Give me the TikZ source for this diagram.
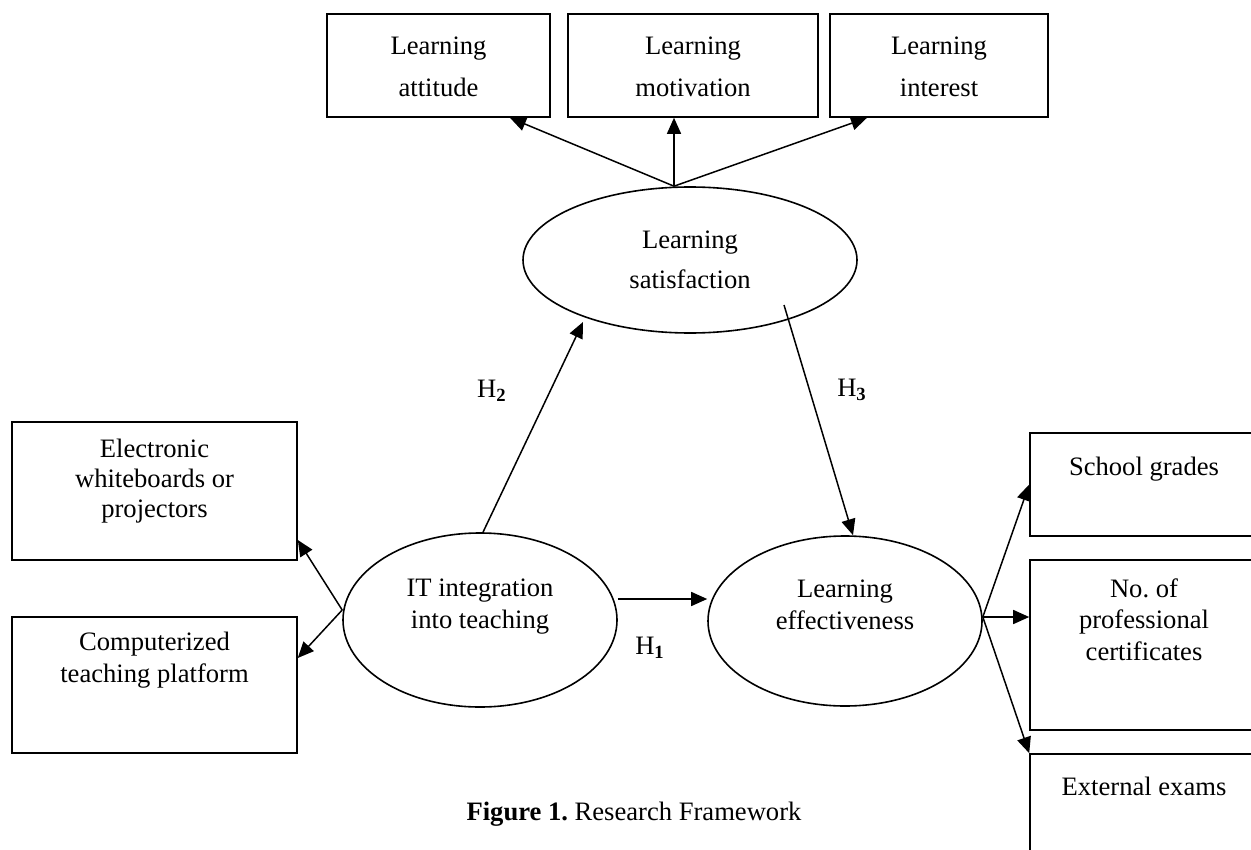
\documentclass[tikz,border=0pt]{standalone}
\usepackage{fontspec}
\setmainfont{Liberation Serif}
\usetikzlibrary{positioning,arrows.meta,shapes.geometric}

\begin{document}
\begin{tikzpicture}[x=0.5pt, y=-0.5pt,
    box/.style = {draw, line width=0.8pt, inner sep=0pt, align=center},
    oval/.style = {draw, ellipse, line width=0.8pt, inner sep=0pt, align=center},
    hyp/.style = {inner sep=0pt},
    font=\fontsize{13.3}{16}\selectfont]
    \useasboundingbox (0,0) rectangle (1251,850);

    % top row
    \node [box, minimum width=111.5pt, text height=41.5pt, text depth=10pt, font=\fontsize{13.3}{21}\selectfont] (att) at (438.5,65.5) {Learning\\attitude};
    \node [box, minimum width=125pt, text height=41.5pt, text depth=10pt, font=\fontsize{13.3}{21}\selectfont] (mot) at (693,65.5) {Learning\\motivation};
    \node [box, minimum width=109pt, text height=41.5pt, text depth=10pt, font=\fontsize{13.3}{21}\selectfont] (int) at (939,65.5) {Learning\\interest};

    % constructs
    \node [oval, minimum width=167pt, minimum height=73pt, font=\fontsize{13.3}{20}\selectfont] (sat) at (690,260) {Learning\\satisfaction};
    \node [oval, minimum width=137pt, minimum height=87pt, text depth=16pt] (it) at (480,620) {IT integration\\into teaching};
    \node [oval, minimum width=137pt, minimum height=85pt, text depth=16pt] (eff) at (845,621) {Learning\\effectiveness};

    % left side
    \node [box, minimum width=142.5pt, text height=47.5pt, text depth=21.5pt, font=\fontsize{13.3}{15}\selectfont] (ewb) at (154.5,491) {Electronic\\whiteboards or\\projectors};
    \node [box, minimum width=142.5pt, text height=32.5pt, text depth=35.5pt] (ctp) at (154.5,685) {Computerized\\teaching platform};

    % right side
    \node [box, minimum width=114pt, text height=21pt, text depth=30.5pt] (sch) at (1144,484.5) {School grades};
    \node [box, minimum width=114pt, text height=50pt, text depth=35pt, font=\fontsize{13.3}{15.75}\selectfont] (cert) at (1144,645) {No.\ of\\professional\\certificates};
    \node [box, minimum width=114pt, text height=20.5pt, text depth=42.5pt] (ext) at (1144,817) {External exams};

    \node [hyp] (h1) at (650,648) {H\textsubscript{\textbf{1}}};
    \node [hyp] (h2) at (492,391) {H\textsubscript{\textbf{2}}};
    \node [hyp] (h3) at (852,390) {H\textsubscript{\textbf{3}}};

    \node [anchor=base] (cap) at (634,820) {\textbf{Figure 1.}\ Research Framework};

    \path[-{Triangle[length=8pt,width=7pt]}, line width=0.75pt]
    ([xshift=-8pt]sat.north) edge ([xshift=35.75pt]att.south)
    ([xshift=-8pt]sat.north) edge ([xshift=-9.5pt]mot.south)
    ([xshift=-8pt]sat.north) edge ([xshift=-36pt]int.south)
    ([xshift=1.5pt]it.north) edge ([xshift=-53.5pt,yshift=-31pt]sat.center)
    ([xshift=47pt,yshift=-22.5pt]sat.center) edge ([xshift=4pt]eff.north)
    ([yshift=10.5pt]it.east) edge ([yshift=11pt]eff.west)
    ([yshift=5pt]it.west) edge ([yshift=-24.5pt]ewb.east)
    ([yshift=5pt]it.west) edge ([yshift=13.5pt]ctp.east)
    ([yshift=2pt]eff.east) edge (sch.west)
    ([yshift=2pt]eff.east) edge ([yshift=14pt]cert.west)
    ([yshift=2pt]eff.east) edge (ext.north west);
\end{tikzpicture}
\end{document}
